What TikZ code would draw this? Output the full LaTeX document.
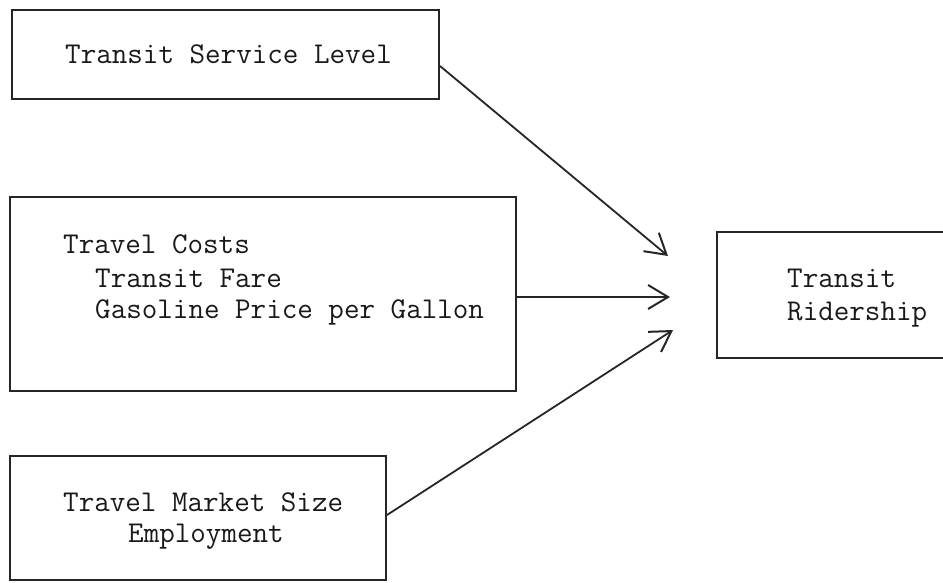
\documentclass[tikz,border=0pt]{standalone}
\usetikzlibrary{arrows.meta}
\begin{document}
\begin{tikzpicture}[x=1pt,y=-1pt,
  ink/.style={draw=black!85, line width=2pt},
  box/.style={ink, rectangle, inner sep=0pt},
  lbl/.style={inner sep=0pt, anchor=base west, font=\ttfamily\fontsize{30.2}{32.5}\selectfont, text=black!90},
  flow/.style={ink, line width=1.8pt, -{Straight Barb[length=20pt,width=24pt,line width=2pt]}}]
\useasboundingbox (0,0) rectangle (943,582);
\clip (0,0) rectangle (943,582);

% input boxes and outcome box
\node[box, minimum width=427pt, minimum height=89pt]  (svc)   at (225.5,54.5) {};
\node[box, minimum width=506pt, minimum height=194pt] (cost)  at (263,294)    {};
\node[box, minimum width=376pt, minimum height=124pt] (mkt)   at (198,518)    {};
\node[box, minimum width=243pt, minimum height=126pt] (rider) at (838.5,295)  {};

% box texts
\node[lbl] (tsvc) at (65,63)   {Transit Service Level};
\node[lbl] (tc1)  at (63,253)  {Travel Costs};
\node[lbl] (tc2)  at (95,287)  {Transit Fare};
\node[lbl] (tc3)  at (95,318)  {Gasoline Price per Gallon};
\node[lbl] (tm1)  at (63,511)  {Travel Market Size};
\node[lbl] (tm2)  at (128,542) {Employment};
\node[lbl] (tr1)  at (787,287) {Transit};
\node[lbl] (tr2)  at (787,320) {Ridership};

% arrow tips in front of the outcome box
\coordinate (tip1) at (668,256);
\coordinate (tip2) at (670,297);
\coordinate (tip3) at (673,330);

\draw[flow] ([yshift=-11.5pt]svc.east) -- (tip1);
\draw[flow] ([yshift=-3pt]cost.east)   -- (tip2);
\draw[flow] ([yshift=3pt]mkt.east)     -- (tip3);
\end{tikzpicture}
\end{document}
